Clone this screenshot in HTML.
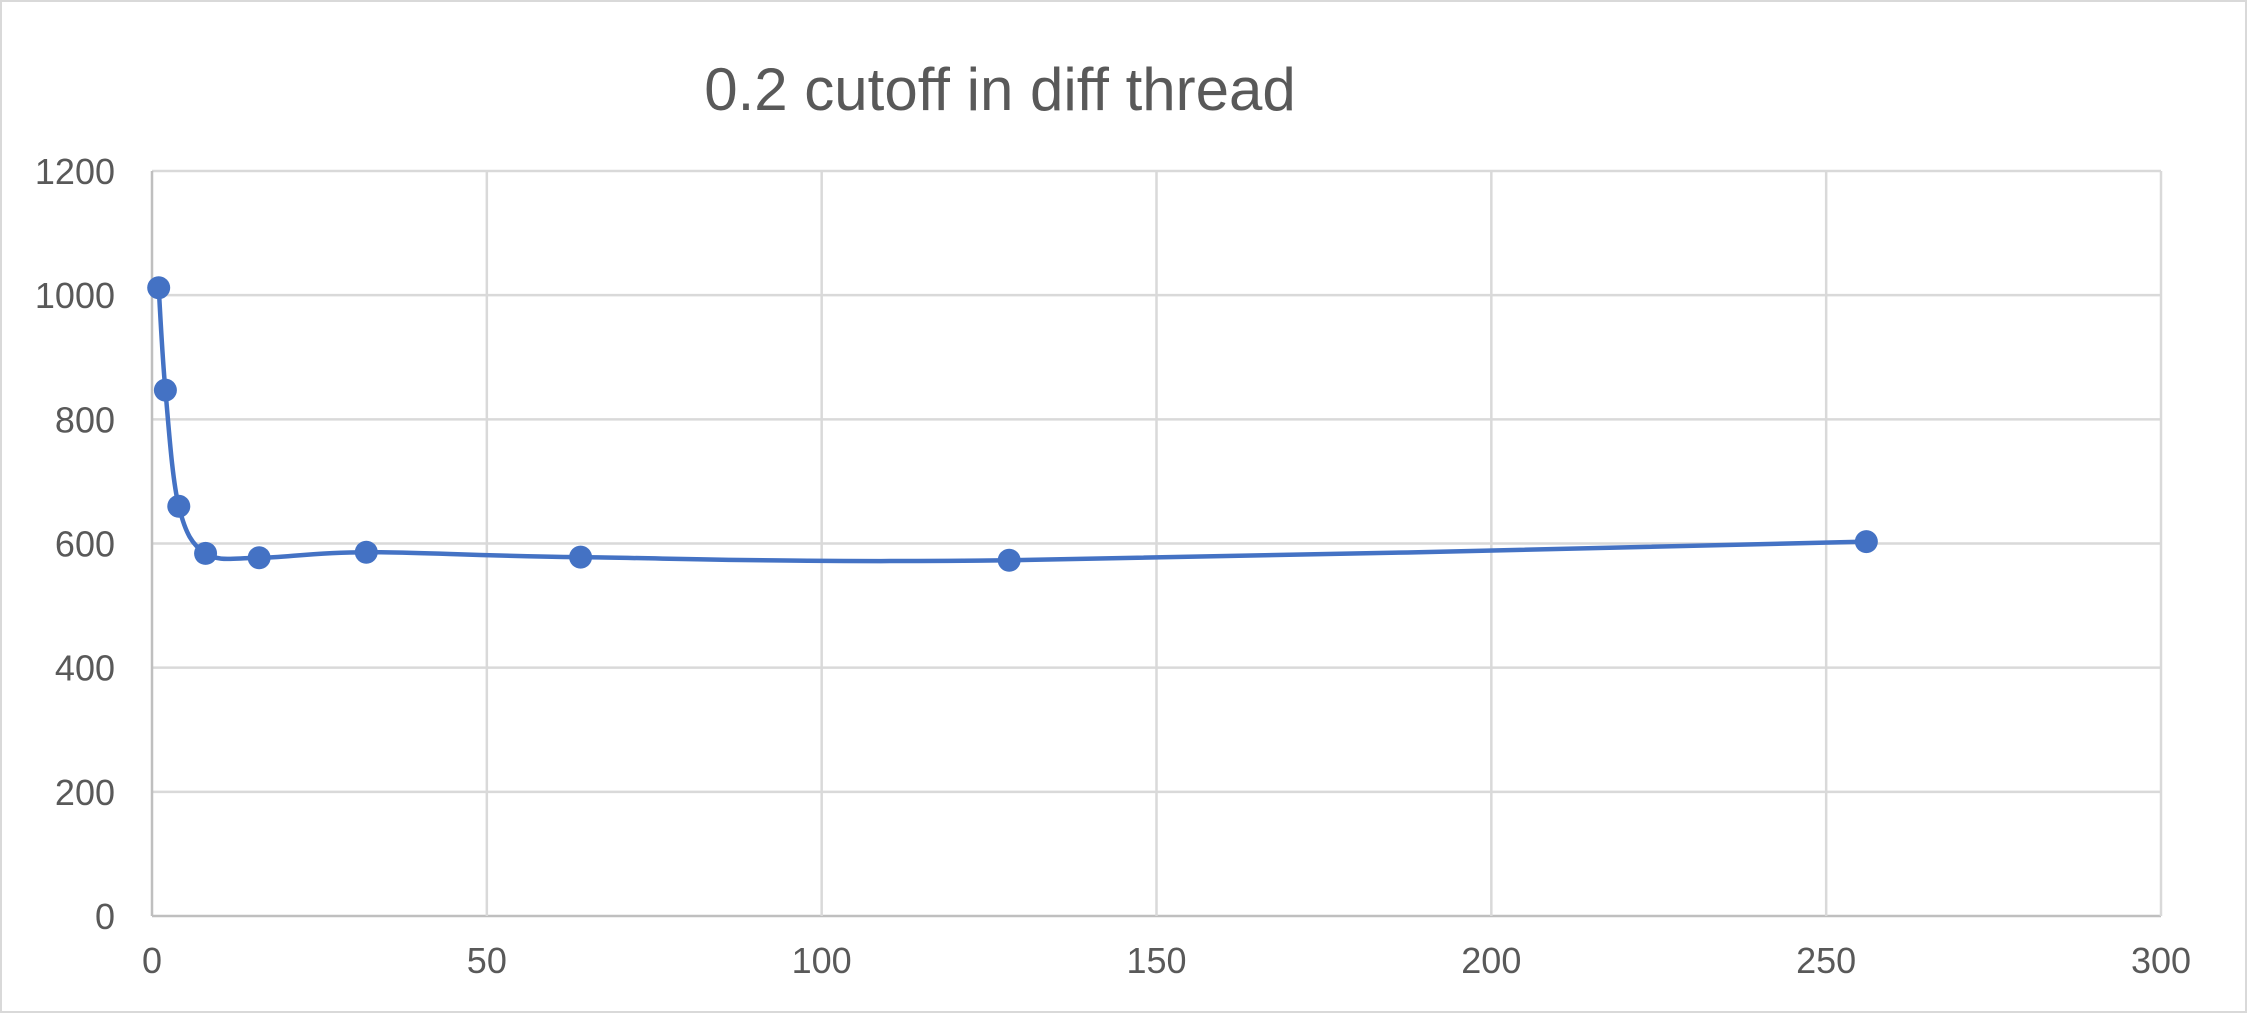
<!DOCTYPE html>
<html><head><meta charset="utf-8"><style>
html,body{margin:0;padding:0;background:#fff;}
svg{display:block;font-family:"Liberation Sans",sans-serif;}
</style></head><body>
<svg id="chart" width="2247" height="1013" viewBox="0 0 2247 1013">
<rect x="1" y="1" width="2245" height="1011" fill="#fff" stroke="#d9d9d9" stroke-width="2"/>
<text x="1000" y="110" text-anchor="middle" font-size="60" fill="#595959">0.2 cutoff in diff thread</text>
<g id="grid"></g><g id="axes"></g><g id="series"></g>
</svg>
<script>
const xValues=[1,2,4,8,16,32,64,128,256];
const yValues=[1012,847,660,584,577,586,578,573,603];
const xTicks=[0,50,100,150,200,250,300];
const yTicks=[0,200,400,600,800,1000,1200];
const L=152,R=2161,T=171,B=916;
const sx=v=>L+(v-0)/300*(R-L);
const sy=v=>B-(v-0)/1200*(B-T);
const NS="http://www.w3.org/2000/svg";
function mk(tag,attrs,parent){const e=document.createElementNS(NS,tag);for(const k in attrs)e.setAttribute(k,attrs[k]);parent.appendChild(e);return e;}
const grid=document.getElementById('grid'),axes=document.getElementById('axes'),ser=document.getElementById('series');
yTicks.forEach(t=>{
 const l=mk('line',{x1:L,x2:R,y1:sy(t),y2:sy(t),stroke:t===0?'#bfbfbf':'#d9d9d9','stroke-width':2.5},grid);
 
 
 const tx=mk('text',{x:115,y:sy(t)+13,'text-anchor':'end','font-size':36,fill:'#595959'},axes);
 tx.textContent=t;
 
 
});
xTicks.forEach(t=>{
 const l=mk('line',{x1:sx(t),x2:sx(t),y1:T,y2:B,stroke:t===0?'#bfbfbf':'#d9d9d9','stroke-width':2.5},grid);
 
 
 const tx=mk('text',{x:sx(t),y:973,'text-anchor':'middle','font-size':36,fill:'#595959'},axes);
 tx.textContent=t;
 
 
});
const pts=xValues.map((x,i)=>[sx(x),sy(yValues[i])]);
let d='M'+pts[0][0]+','+pts[0][1];
for(let i=0;i<pts.length-1;i++){
 const p0=pts[Math.max(0,i-1)],p1=pts[i],p2=pts[i+1],p3=pts[Math.min(pts.length-1,i+2)];
 const k=1/6;
 const c1=[p1[0]+(p2[0]-p0[0])*k,p1[1]+(p2[1]-p0[1])*k];
 const c2=[p2[0]-(p3[0]-p1[0])*k,p2[1]-(p3[1]-p1[1])*k];
 d+=` C${c1[0]},${c1[1]} ${c2[0]},${c2[1]} ${p2[0]},${p2[1]}`;
}
const path=mk('path',{d:d,fill:'none',stroke:'#4472c4','stroke-width':4.5,'stroke-linecap':'round'},ser);


pts.forEach(p=>{
 const c=mk('circle',{cx:p[0],cy:p[1],r:11.5,fill:'#4472c4'},ser);
 
 
});
</script>
</body></html>
